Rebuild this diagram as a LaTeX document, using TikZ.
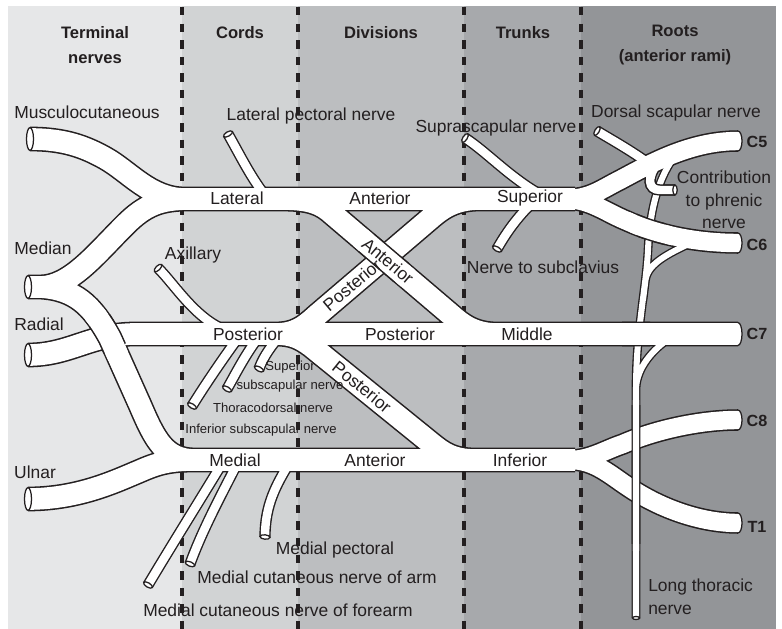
\documentclass[tikz,border=0pt]{standalone}
\usepackage{fontspec}
\setmainfont{Liberation Sans}
\usepackage{tikz}
\usetikzlibrary{calc}
\usepackage{xcolor}

\begin{document}
\begin{tikzpicture}[x=0.025cm,y=-0.025cm,
  lab/.style={font=\fontsize{12.4}{14}\selectfont, text=texte, inner sep=0pt},
  petit/.style={font=\fontsize{9.3}{13.5}\selectfont, text=texte, inner sep=0pt, align=center},
  titre/.style={font=\fontsize{11.8}{17.8}\selectfont\bfseries, text=texte, inner sep=0pt, align=center},
  racine/.style={font=\fontsize{11.5}{14}\selectfont\bfseries, text=texte, inner sep=0pt},
  bout/.style={fill=white, draw=trait, line width=0.9pt},
  tiret/.style={draw=trait, line width=2.2pt, dash pattern=on 6pt off 5.8pt}]

% Couleurs
\definecolor{grisA}{HTML}{E6E7E8}
\definecolor{grisB}{HTML}{D1D3D4}
\definecolor{grisC}{HTML}{BCBEC0}
\definecolor{grisD}{HTML}{A7A9AC}
\definecolor{grisE}{HTML}{939598}
\definecolor{trait}{HTML}{231F20}
\definecolor{texte}{HTML}{231F20}

\useasboundingbox (0,0) rectangle (782,629);

% Fond en colonnes
\fill[white] (0,0) rectangle (782,629);
\fill[grisA] (8,6) rectangle (182,629);
\fill[grisB] (182,6) rectangle (298,629);
\fill[grisC] (298,6) rectangle (464,629);
\fill[grisD] (464,6) rectangle (581,629);
\fill[grisE] (581,6) rectangle (776,629);
\foreach \x in {182,298,464,581}
  \draw[tiret] (\x,7) -- (\x,629);

% Extremites
\coordinate (eMusc) at (30,139);
\coordinate (eMed) at (28,287);
\coordinate (eRad) at (28,355);
\coordinate (eUln) at (28,499);
\coordinate (eCcinq) at (738,141);
\coordinate (eCsix) at (738,243);
\coordinate (eCsept) at (738,334);
\coordinate (eChuit) at (738,420);
\coordinate (eTun) at (738,523);

% Trajets des nerfs
\def\pMusc{(30,139) .. controls (65,139) and (85,147) .. (105,158) .. controls (130,172) and (150,199) .. (185,199)}
\def\pLat{(170,199) -- (575,199)}
\def\pRacLat{(40,287) .. controls (70,287) and (95,255) .. (125,225) .. controls (145,205) and (160,199) .. (190,199)}
\def\pMed{(28,287) -- (60,287)}
\def\pRacMed{(40,287) .. controls (75,289) and (92,305) .. (110,338) -- (140,405) .. controls (155,440) and (165,460) .. (195,460)}
\def\pRad{(28,355) .. controls (70,355) and (90,334) .. (135,334) -- (738,334)}
\def\pUln{(28,499) .. controls (80,499) and (118,480) .. (140,471) .. controls (158,463) and (170,460) .. (195,460) -- (575,460)}
\def\pAnt{(280,199) .. controls (302,199) and (317,201) .. (329,211) -- (450,314) .. controls (460,322.5) and (472,334) .. (497,334)}
\def\pPostSup{(275,334) .. controls (295,334) and (304,327) .. (316,316) -- (432,217) .. controls (442,208.5) and (455,199) .. (480,199)}
\def\pPostInf{(275,334) .. controls (292,334) and (300,338) .. (311,346) -- (432,444) .. controls (442,452) and (452,460) .. (475,460)}
\def\pCcinq{(565,199) .. controls (590,199) and (600,190) .. (620,180) .. controls (650,164) and (690,141) .. (738,141)}
\def\pCsix{(565,199) .. controls (590,199) and (605,212) .. (627,221) .. controls (660,236) and (700,243) .. (738,243)}
\def\pChuit{(570,460) .. controls (590,460) and (605,450) .. (623,444) .. controls (655,430) and (700,420) .. (738,420)}
\def\pTun{(570,460) .. controls (595,460) and (610,475) .. (630,488) .. controls (660,508) and (700,523) .. (738,523)}
\def\pPecLat{(228,134) .. controls (240,155) and (252,180) .. (268,199)}
\def\pAxil{(158,268) .. controls (175,285) and (195,318) .. (225,330)}
\def\pSupra{(465,138) .. controls (487,152) and (512,180) .. (545,197)}
\def\pSubcl{(497,249) .. controls (505,235) and (515,220) .. (530,205)}
\def\pDors{(597,131) .. controls (612,140) and (630,150) .. (648,163)}
\def\pPhren{(656,166) .. controls (648,176) and (647,190) .. (660,190) -- (675,190)}
\def\pCutAvb{(223,462) .. controls (200,500) and (170,548) .. (148,585)}
\def\pCutBr{(238,462) .. controls (225,488) and (203,528) .. (190,564)}
\def\pPecMed{(290,462) .. controls (276,485) and (265,505) .. (265,537)}
\def\pSubSup{(278,338) .. controls (268,350) and (262,360) .. (259,369)}
\def\pThor{(258,338) .. controls (245,355) and (235,375) .. (227,389)}
\def\pSubInf{(238,338) .. controls (222,360) and (205,385) .. (192,406)}
\def\pBrSix{(697,240) .. controls (672,252) and (648,262) .. (645.5,280) -- (643,300)}
\def\pBrSept{(670,338) .. controls (652,350) and (637,368) .. (636,388) -- (636,400)}
\def\pThorLong{(672,160) .. controls (660,178) and (650,205) .. (648,250) .. controls (646,290) and (636,330) .. (636,390) -- (636,618)}

% Contour noir puis interieur blanc
\foreach \coul/\gros/\rac/\fin/\tfin in {trait/17.6pt/15.3pt/8pt/6.2pt, white/15.4pt/13.1pt/6pt/4.3pt}{
  \draw[\coul, line width=\tfin] \pThorLong \pBrSix \pBrSept;
  \draw[\coul, line width=\fin] \pPecLat \pAxil \pSupra \pSubcl \pDors \pPhren
    \pCutAvb \pCutBr \pPecMed \pSubSup \pThor \pSubInf;
  \draw[\coul, line width=\gros] \pMusc \pLat \pRacLat \pMed \pRacMed \pRad \pUln
    \pAnt \pPostSup \pPostInf;
  \draw[\coul, line width=\rac] \pCcinq \pCsix \pChuit \pTun;
}

% Croisements (contour dans une zone, blanc dans une zone plus large)
\begin{scope}
  \clip (384,258) circle (26);
  \draw[trait, line width=17.6pt] \pAnt;
\end{scope}
\begin{scope}
  \clip (384,258) circle (33);
  \draw[white, line width=15.4pt] \pAnt;
\end{scope}
\begin{scope}
  \clip (108,334) circle (20);
  \draw[trait, line width=17.6pt] \pRacMed;
\end{scope}
\begin{scope}
  \clip (108,334) circle (27);
  \draw[white, line width=15.4pt] \pRacMed;
\end{scope}
\begin{scope}
  \clip (637,208) rectangle (665,253);
  \draw[trait, line width=15.3pt] \pCsix;
\end{scope}
\begin{scope}
  \clip (630,202) rectangle (672,259);
  \draw[white, line width=13.1pt] \pCsix;
\end{scope}
\begin{scope}
  \clip (622,316) rectangle (650,352);
  \draw[trait, line width=17.6pt] \pRad;
\end{scope}
\begin{scope}
  \clip (615,310) rectangle (656,358);
  \draw[white, line width=15.4pt] \pRad;
\end{scope}
\begin{scope}
  \clip (622,405) rectangle (652,543);
  \draw[trait, line width=6.2pt] \pThorLong;
\end{scope}
\begin{scope}
  \clip (622,400) rectangle (652,550);
  \draw[white, line width=4.3pt] \pThorLong;
\end{scope}
\begin{scope}
  \clip (641,180) rectangle (684,199);
  \draw[trait, line width=8pt] \pPhren;
\end{scope}
\begin{scope}
  \clip (641,176) rectangle (684,203);
  \draw[white, line width=6pt] \pPhren;
\end{scope}

% Bouts coupes
\foreach \P in {eMusc,eMed,eRad,eUln}
  \draw[bout] (\P) ellipse (3.5 and 11.4);
\foreach \x/\y/\a in {228/134/-60, 158/268/-45, 465/138/-33, 497/249/60, 597/131/-31,
    675/190/0, 148/585/59, 190/564/68, 265/537/85, 259/369/62, 227/389/60, 192/406/58}
  \draw[bout, rotate around={\a:(\x,\y)}] (\x,\y) ellipse (2.2 and 5);
\draw[bout] (636,618) ellipse (3.6 and 1.5);
\foreach \P in {eCcinq,eCsix,eChuit,eTun}
  \draw[bout] ($(\P)+(0,10)$) arc[start angle=90, end angle=-90, x radius=4, y radius=10];
\draw[bout] ($(eCsept)+(0,11.4)$) arc[start angle=90, end angle=-90, x radius=4, y radius=11.4];

% Titres
\node[titre] (tTerm) at (95,45) {Terminal\\nerves};
\node[titre] (tCords) at (240,33) {Cords};
\node[titre] (tDiv) at (381,33) {Divisions};
\node[titre] (tTrunk) at (523,33) {Trunks};
\node[titre] (tRoots) at (675,45) {Roots\\(anterior rami)};

% Racines
\node[racine] (lCcinq) at (757,142) {C5};
\node[racine] (lCsix) at (757,245) {C6};
\node[racine] (lCsept) at (757,334) {C7};
\node[racine] (lChuit) at (757,421) {C8};
\node[racine] (lTun) at (757,527) {T1};

% Etiquettes
\node[lab] (lMusc) at (87,112) {Musculocutaneous};
\node[lab] (lPecLat) at (311,116) {Lateral pectoral nerve};
\node[lab] (lSupra) at (496,128) {Suprascapular nerve};
\node[lab] (lDors) at (676,113) {Dorsal scapular nerve};
\node[lab, align=center, font=\fontsize{12.4}{16}\selectfont] (lPhren) at (724,200) {Contribution\\to phrenic\\nerve};
\node[lab] (lLat) at (237,198) {Lateral};
\node[lab] (lAntH) at (380,198) {Anterior};
\node[lab] (lSup) at (530,198) {Superior};
\node[lab] (lMedian) at (43,248) {Median};
\node[lab] (lAxil) at (193,255) {Axillary};
\node[lab, rotate=-40] (lAntD) at (388,261) {Anterior};
\node[lab, rotate=40] (lPostD) at (352,285) {Posterior};
\node[lab] (lRad) at (39,324) {Radial};
\node[lab] (lPostC) at (248,334) {Posterior};
\node[lab] (lPostM) at (400,334) {Posterior};
\node[lab] (lMid) at (527,334) {Middle};
\node[lab] (lSubcl) at (543,267) {Nerve to subclavius};
\node[petit] (lSubSup) at (290,377) {Superior\\subscapular nerve};
\node[petit] (lThor) at (273,408) {Thoracodorsal nerve};
\node[petit] (lSubInf) at (261,430) {Inferior subscapular nerve};
\node[lab, rotate=-39] (lPostI) at (362,387) {Posterior};
\node[lab] (lUln) at (35,472) {Ulnar};
\node[lab] (lMedial) at (235,460) {Medial};
\node[lab] (lAntB) at (375,460) {Anterior};
\node[lab] (lInf) at (520,460) {Inferior};
\node[lab] (lPecMed) at (335,550) {Medial pectoral};
\node[lab] (lCutBr) at (317,577) {Medial cutaneous nerve of arm};
\node[lab] (lCutAvb) at (278,610) {Medial cutaneous nerve of forearm};
\node[lab, align=left, anchor=west, font=\fontsize{12.4}{16.4}\selectfont] (lThorLong) at (648,597) {Long thoracic\\nerve};

\end{tikzpicture}
\end{document}
